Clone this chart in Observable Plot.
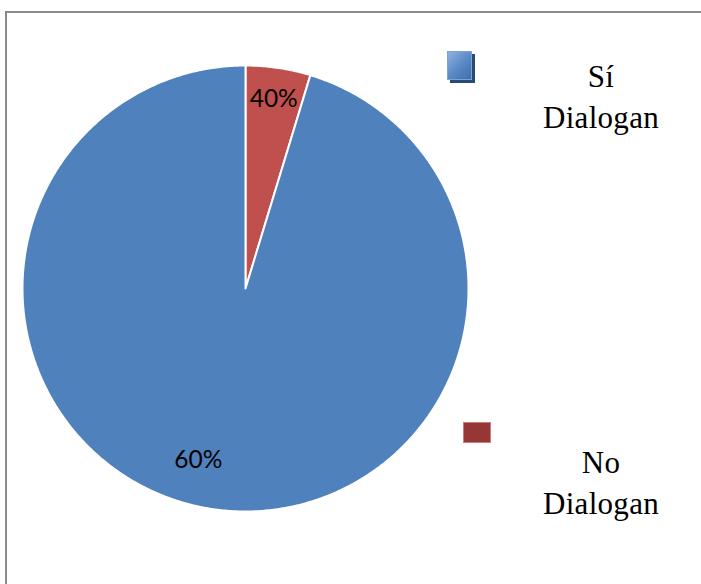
<!DOCTYPE html>
<html>
<head>
<meta charset="utf-8">
<script src="https://cdn.jsdelivr.net/npm/d3@7"></script>
<script src="https://cdn.jsdelivr.net/npm/@observablehq/plot@0.6"></script>
<style>
html, body { margin: 0; padding: 0; background: #fff; overflow: hidden; }
#wrap { position: relative; width: 701px; height: 584px; overflow: hidden; background: #fff; }
#chart { position: absolute; left: 0; top: 0; }
.fl { position: absolute; background: #8a8a8a; }
.sw { position: absolute; box-sizing: border-box; }
.lg { position: absolute; width: 200px; text-align: center; font-family: "Liberation Serif", "Times New Roman", serif;
  font-size: 31px; letter-spacing: 0.3px; line-height: 41px; color: #000; }
</style>
</head>
<body>
<div id="wrap">
  <div id="chart"></div>
  <div class="fl" style="left:5px;top:11px;width:696px;height:2px;"></div>
  <div class="fl" style="left:5px;top:11px;width:2px;height:573px;"></div>
</div>
<script>
// ---- data ----
const categories = ["Sí Dialogan", "No Dialogan"];
const legendLines = [["Sí", "Dialogan"], ["No", "Dialogan"]];
const shares = [95.3, 4.7];          // slice sizes as drawn in the picture
const labels = ["60%", "40%"];       // printed percentage labels
const colors = ["#4F81BD", "#C0504D"];
const drawOrder = [1, 0];            // red slice starts at 12 o'clock, clockwise

// ---- geometry (pie in unit-radius data coordinates) ----
const total = d3.sum(shares);
let start = 0;
const slices = drawOrder.map(i => {
  const a0 = start / total * 2 * Math.PI;
  start += shares[i];
  const a1 = start / total * 2 * Math.PI;
  const pts = [{x: 0, y: 0}];
  const n = Math.max(2, Math.ceil((a1 - a0) / (Math.PI / 360)));
  for (let k = 0; k <= n; k++) {
    const a = a0 + (a1 - a0) * k / n;
    pts.push({x: Math.sin(a), y: Math.cos(a)});
  }
  pts.push({x: 0, y: 0});
  return {i, a0, a1, pts};
});

const labelR = [0.80, 0.86];
const labelShift = [0.12, 0];
const labelData = slices.map(s => {
  const m = (s.a0 + s.a1) / 2 + labelShift[s.i];
  return {x: labelR[s.i] * Math.sin(m), y: labelR[s.i] * Math.cos(m), text: labels[s.i]};
});

const R = 223, cx = 245, cy = 288, W = 701, H = 584;

const marks = slices.map(s =>
  Plot.line(s.pts, {x: "x", y: "y", fill: colors[s.i], stroke: "white", strokeWidth: 2, strokeLinejoin: "round", curve: "linear"})
);
marks.push(Plot.text(labelData, {x: "x", y: "y", text: "text", fontSize: 24.5, fill: "#000",
  fontFamily: "Lato, 'Liberation Sans', sans-serif"}));

const chart = Plot.plot({
  width: W, height: H,
  marginTop: 0, marginRight: 0, marginBottom: 0, marginLeft: 0,
  x: {domain: [-cx / R, (W - cx) / R], axis: null},
  y: {domain: [-(H - cy) / R, cy / R], axis: null},
  style: {background: "transparent", overflow: "visible"},
  marks
});
document.getElementById("chart").appendChild(chart);

// ---- legend ----
const wrap = document.getElementById("wrap");
const sw0 = document.createElement("div");
sw0.className = "sw";
Object.assign(sw0.style, {left: "447px", top: "51px", width: "25px", height: "29px",
  background: "linear-gradient(135deg, #8fb2dd 0%, #5b8bc6 50%, #3f6fab 100%)",
  border: "1px solid #7aa3d6", boxShadow: "3px 3px 0 #2b4a72"});
wrap.appendChild(sw0);
const sw1 = document.createElement("div");
sw1.className = "sw";
Object.assign(sw1.style, {left: "463px", top: "422px", width: "28px", height: "21px",
  background: "#953735", border: "1px solid #d47b79"});
wrap.appendChild(sw1);

const lgTops = [56, 442];
legendLines.forEach((lines, i) => {
  const d = document.createElement("div");
  d.className = "lg";
  d.style.left = "501px";
  d.style.top = lgTops[i] + "px";
  d.innerHTML = lines.map(t => `<div>${t}</div>`).join("");
  d.title = categories[i];
  wrap.appendChild(d);
});
</script>
</body>
</html>
